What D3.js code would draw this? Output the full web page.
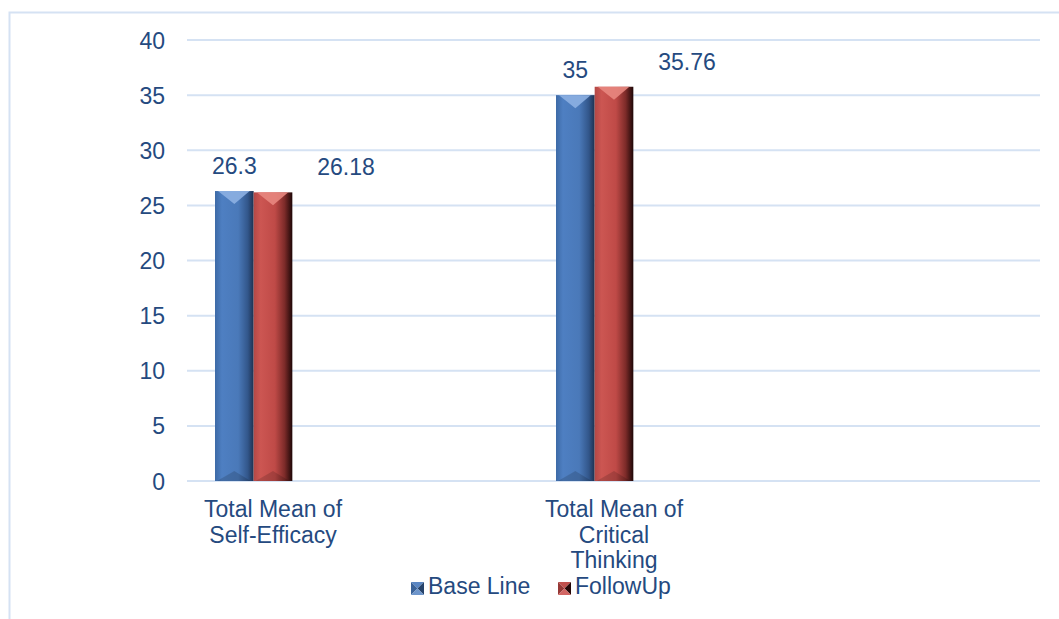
<!DOCTYPE html>
<html>
<head>
<meta charset="utf-8">
<script src="https://cdn.jsdelivr.net/npm/d3@7"></script>
<style>
  body { margin: 0; background: #fff; }
  svg text { font-family: "Liberation Sans", Arial, sans-serif; fill: #254a7f; }
</style>
</head>
<body>
<div id="chart"></div>
<script>
// Data
let categories = [["Total Mean of", "Self-Efficacy"], ["Total Mean of", "Critical", "Thinking"]];
let seriesNames = ["Base Line", "FollowUp"];
let baseLine = [26.3, 35];
let followUp = [26.18, 35.76];
let yTicks = [0, 5, 10, 15, 20, 25, 30, 35, 40];

let width = 1059, height = 619;

let svg = d3.select("#chart")
    .append("svg")
    .attr("width", width)
    .attr("height", height);

// Chart border
svg.append("path")
    .attr("d", "M9.5,619 V12.5 H1059")
    .attr("fill", "none")
    .attr("stroke", "#d5e2f3")
    .attr("stroke-width", 2);

// Gradients
let defs = svg.append("defs");
let gradients = {
    blue: [["0%", "#3d6aa6"], ["18%", "#4e7fc2"], ["60%", "#4a79b9"], ["85%", "#32568a"], ["100%", "#1d3150"]],
    red: [["0%", "#b34846"], ["18%", "#cc5652"], ["55%", "#bf4a47"], ["80%", "#7d2b29"], ["100%", "#1e0707"]]
};
Object.keys(gradients).forEach(k => {
    let g = defs.append("linearGradient").attr("id", "grad-" + k)
        .attr("x1", "0%").attr("x2", "100%").attr("y1", "0%").attr("y2", "0%");
    gradients[k].forEach(s => g.append("stop").attr("offset", s[0]).attr("stop-color", s[1]));
});

// Scales
let x = d3.scaleBand()
    .domain(d3.range(categories.length))
    .range([102.5, 102.5 + 341 * categories.length]);

let xInner = d3.scaleBand()
    .domain(["Base Line", "FollowUp", ""])
    .range([-58, 58]);

let y = d3.scaleLinear()
    .domain([0, 40])
    .range([481, 40]);

// Gridlines
svg.append("g")
    .selectAll("line")
    .data(yTicks)
    .enter()
    .append("line")
    .attr("x1", 187)
    .attr("x2", 1040)
    .attr("y1", d => y(d))
    .attr("y2", d => y(d))
    .attr("stroke", "#d5e2f3")
    .attr("stroke-width", 2);

// Y axis labels
let yAxis = svg.append("g")
    .attr("transform", "translate(165,0)")
    .call(d3.axisLeft(y).tickValues(yTicks).tickSize(0).tickPadding(0));
yAxis.select(".domain").remove();
yAxis.selectAll("text")
    .attr("font-size", "23px")
    .attr("font-family", null)
    .attr("dy", "0.35em");

// Bars
let colors = {"Base Line": "blue", "FollowUp": "red"};
let capColor = {"Base Line": "#8db0e2", "FollowUp": "#e8877f"};
let bars = [];
categories.forEach((c, i) => {
    bars.push({cat: i, series: "Base Line", value: baseLine[i]});
    bars.push({cat: i, series: "FollowUp", value: followUp[i]});
});

let barG = svg.append("g");
bars.forEach(b => {
    let x0 = x(b.cat) + x.bandwidth() / 2 + xInner(b.series);
    let w = xInner.bandwidth();
    let top = y(b.value), bottom = y(0);
    let g = barG.append("g");
    g.append("rect")
        .attr("x", x0)
        .attr("y", top)
        .attr("width", w)
        .attr("height", bottom - top)
        .attr("fill", "url(#grad-" + colors[b.series] + ")");
    // top bevel
    g.append("path")
        .attr("d", `M${x0 + 3},${top} L${x0 + w - 4},${top} L${x0 + w / 2},${top + 13} Z`)
        .attr("fill", capColor[b.series])
        .attr("opacity", 0.9);
    // bottom bevel
    g.append("path")
        .attr("d", `M${x0 + 2},${bottom} L${x0 + w - 3},${bottom} L${x0 + w / 2},${bottom - 10} Z`)
        .attr("fill", "#000")
        .attr("opacity", 0.15);
});

// Data labels
bars.forEach(b => {
    let cx = x(b.cat) + x.bandwidth() / 2 + xInner(b.series) + xInner.bandwidth() / 2;
    svg.append("text")
        .attr("x", b.series === "FollowUp" ? cx + 73 : cx)
        .attr("y", y(b.value) - 17)
        .attr("text-anchor", "middle")
        .style("font-size", "23px")
        .text(b.value);
});

// Category labels
categories.forEach((lines, i) => {
    let t = svg.append("text")
        .attr("text-anchor", "middle")
        .style("font-size", "23px");
    lines.forEach((l, j) => {
        t.append("tspan")
            .attr("x", x(i) + x.bandwidth() / 2)
            .attr("y", 517 + j * 25.5)
            .text(l);
    });
});

// Legend
let legendShades = {
    "Base Line": ["#5a86c3", "#3a6298", "#26436b", "#6d95cb"],
    "FollowUp": ["#c0504d", "#963836", "#250808", "#d26663"]
};
let legendX = [411, 558];
seriesNames.forEach((s, i) => {
    let g = svg.append("g").attr("transform", `translate(${legendX[i]},582)`);
    let sz = 13, c = sz / 2;
    let sh = legendShades[s];
    g.append("path").attr("d", `M0,0 L${sz},0 L${c},${c} Z`).attr("fill", sh[0]);
    g.append("path").attr("d", `M0,0 L${c},${c} L0,${sz} Z`).attr("fill", sh[1]);
    g.append("path").attr("d", `M${sz},0 L${sz},${sz} L${c},${c} Z`).attr("fill", sh[2]);
    g.append("path").attr("d", `M0,${sz} L${c},${c} L${sz},${sz} Z`).attr("fill", sh[3]);
    g.append("text")
        .attr("x", 17)
        .attr("y", 12)
        .style("font-size", "23px")
        .text(s);
});
</script>
</body>
</html>
